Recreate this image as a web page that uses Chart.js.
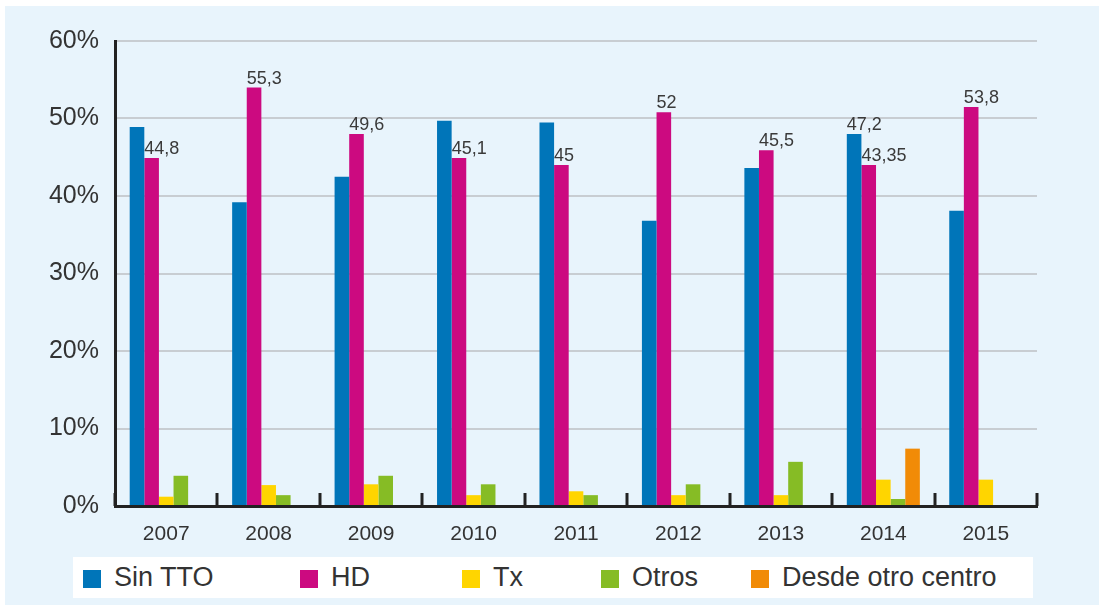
<!DOCTYPE html>
<html>
<head>
<meta charset="utf-8">
<script src="https://cdn.jsdelivr.net/npm/chart.js@4.4.1/dist/chart.umd.min.js"></script>
<style>
  body { margin: 0; background: #fff; font-family: "Liberation Sans", Arial, sans-serif; }
  #wrap { position: relative; width: 1099px; height: 605px; overflow: hidden; }
  #bg { position: absolute; left: 5px; top: 6px; right: 0; bottom: 0; background: #e8f4fc; }
  canvas { position: absolute; left: 0; top: 0; }
  #legend { position: absolute; left: 73px; top: 557px; width: 960px; height: 41px; background: #fff; }
  #legend .item { position: absolute; top: 0; height: 41px; }
  #legend .box { position: absolute; left: 0; top: 13px; width: 18px; height: 18px; }
  #legend .txt { position: absolute; left: 31px; top: 0; line-height: 41px; font-size: 27px; color: #333; white-space: nowrap; }
</style>
</head>
<body>
<div id="wrap">
  <div id="bg"></div>
  <canvas id="chart" width="1099" height="605"></canvas>
  <div id="legend"></div>
</div>
<script>
  // data
  var years = ["2007", "2008", "2009", "2010", "2011", "2012", "2013", "2014", "2015"];
  var sinTTO = [48.9, 39.2, 42.5, 49.7, 49.5, 36.8, 43.6, 48.0, 38.1];
  var hd = [44.9, 54.0, 48.0, 44.9, 44.0, 50.8, 45.9, 44.0, 51.5];
  var tx = [1.2, 2.7, 2.8, 1.4, 1.9, 1.4, 1.4, 3.4, 3.4];
  var otros = [3.9, 1.4, 3.9, 2.8, 1.4, 2.8, 5.7, 0.9, null];
  var desdeOtro = [null, null, null, null, null, null, null, 7.4, null];

  // value labels printed over the bars
  var sinTTOLabels = [null, null, null, null, null, null, null, "47,2", null];
  var hdLabels = ["44,8", "55,3", "49,6", "45,1", "45", "52", "45,5", "43,35", "53,8"];

  var yTicks = [0, 10, 20, 30, 40, 50, 60];
  var legendLeft = [10, 227, 389, 528, 678];

  var FONT = '"Liberation Sans", Arial, sans-serif';

  // draws the text labels above the bars
  var barLabels = {
    id: "barLabels",
    afterDatasetsDraw: function (chart) {
      var ctx = chart.ctx;
      var sets = [[0, sinTTOLabels], [1, hdLabels]];
      ctx.save();
      ctx.font = "18px " + FONT;
      ctx.fillStyle = "#3a3a3a";
      ctx.textAlign = "left";
      ctx.textBaseline = "alphabetic";
      sets.forEach(function (s) {
        var meta = chart.getDatasetMeta(s[0]);
        s[1].forEach(function (txt, i) {
          if (!txt) return;
          var el = meta.data[i];
          ctx.fillText(txt, el.x - el.width / 2, el.y - 4);
        });
      });
      ctx.restore();
    }
  };

  // small upward ticks between the categories
  var catTicks = {
    id: "catTicks",
    afterDraw: function (chart) {
      var xs = chart.scales.x;
      var ctx = chart.ctx;
      var n = years.length;
      ctx.save();
      ctx.strokeStyle = "#222";
      ctx.lineWidth = 3;
      for (var i = 0; i <= n; i++) {
        var x = Math.round(xs.left + i * xs.width / n);
        ctx.beginPath();
        ctx.moveTo(x, xs.top - 13);
        ctx.lineTo(x, xs.top);
        ctx.stroke();
      }
      ctx.restore();
    }
  };

  var ctx = document.getElementById("chart").getContext("2d");
  var chart = new Chart(ctx, {
    type: "bar",
    data: {
      labels: years,
      datasets: [
        { label: "Sin TTO", data: sinTTO, backgroundColor: "#0075b9" },
        { label: "HD", data: hd, backgroundColor: "#cc0a80" },
        { label: "Tx", data: tx, backgroundColor: "#ffd500" },
        { label: "Otros", data: otros, backgroundColor: "#86bc25" },
        { label: "Desde otro centro", data: desdeOtro, backgroundColor: "#f18b07" }
      ]
    },
    options: {
      responsive: false,
      animation: false,
      layout: { padding: { left: 0, top: 41, right: 62, bottom: 0 } },
      datasets: { bar: { categoryPercentage: 0.713, barPercentage: 1 } },
      plugins: { legend: { display: false }, tooltip: { enabled: false } },
      scales: {
        x: {
          grid: { display: false },
          border: { display: true, color: "#222", width: 3 },
          ticks: { color: "#333", font: { family: FONT, size: 21 }, padding: 8 },
          afterFit: function (s) { s.height = 99; }
        },
        y: {
          min: 0,
          max: 60,
          afterBuildTicks: function (s) {
            s.ticks = yTicks.map(function (v) { return { value: v }; });
          },
          ticks: {
            color: "#333",
            font: { family: FONT, size: 25 },
            padding: 16,
            callback: function (v) { return v + "%"; }
          },
          grid: { color: "#c8cdd2", lineWidth: 2, drawTicks: false },
          border: { display: true, color: "#222", width: 3 },
          afterFit: function (s) { s.width = 115; }
        }
      }
    },
    plugins: [barLabels, catTicks]
  });

  // html legend built from the datasets
  var legend = document.getElementById("legend");
  chart.data.datasets.forEach(function (ds, i) {
    var item = document.createElement("div");
    item.className = "item";
    item.style.left = legendLeft[i] + "px";
    item.innerHTML = '<span class="box" style="background:' + ds.backgroundColor + '"></span>' +
      '<span class="txt">' + ds.label + "</span>";
    legend.appendChild(item);
  });
</script>
</body>
</html>
